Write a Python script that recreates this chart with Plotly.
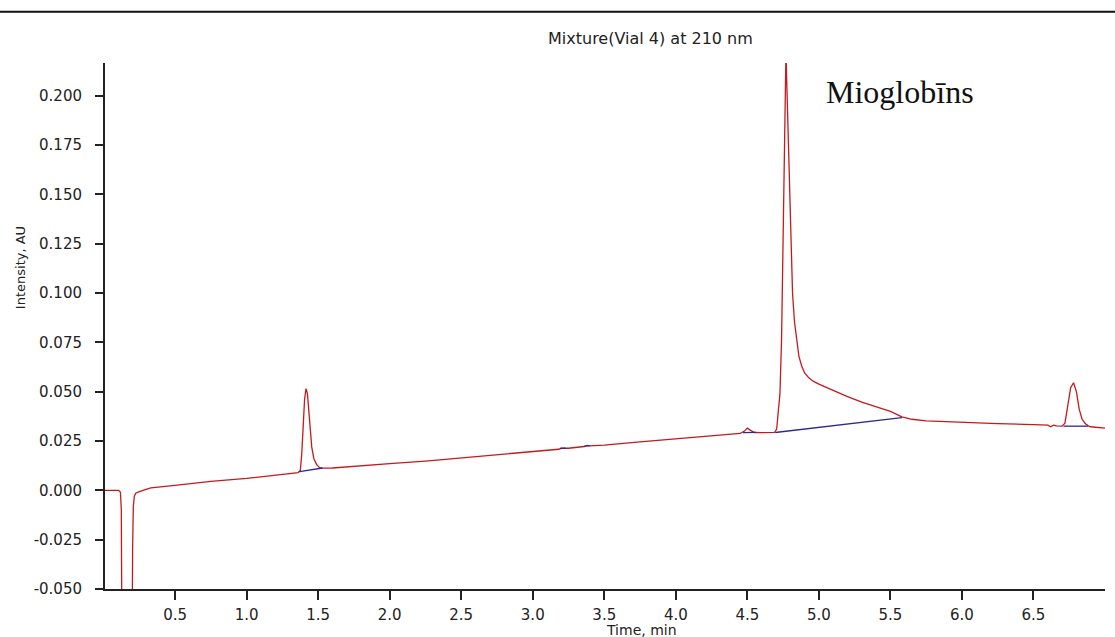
import plotly.graph_objects as go

# Chromatogram signal (time in min, intensity in AU)
time_min = [0.01, 0.105, 0.118, 0.124, 0.128, 0.20, 0.203, 0.208, 0.215, 0.225, 0.245, 0.28, 0.33,
            0.5, 0.75, 1.0, 1.25, 1.36, 1.375, 1.385, 1.395, 1.405, 1.415, 1.425, 1.435, 1.445,
            1.455, 1.47, 1.49, 1.51, 1.53, 1.6, 1.8, 2.0, 2.25, 2.5, 2.75, 3.0, 3.18, 3.2, 3.22,
            3.25, 3.36, 3.38, 3.40, 3.5, 3.75, 4.0, 4.25, 4.45, 4.48, 4.5, 4.52, 4.55, 4.6, 4.69,
            4.705, 4.718, 4.728, 4.739, 4.753, 4.762, 4.770, 4.778, 4.787, 4.797, 4.807, 4.816,
            4.83, 4.845, 4.86, 4.88, 4.90, 4.93, 4.96, 5.0, 5.05, 5.1, 5.2, 5.3, 5.4, 5.5, 5.58,
            5.65, 5.75, 6.0, 6.25, 6.5, 6.6, 6.62, 6.64, 6.66, 6.7, 6.72, 6.74, 6.76, 6.78, 6.80,
            6.82, 6.84, 6.86, 6.88, 6.9, 7.0]
intensity = [0.000, 0.000, -0.001, -0.010, -0.070, -0.070, -0.030, -0.008, -0.003, -0.0015, -0.0008, 0.0, 0.0012,
             0.0025, 0.0045, 0.006, 0.008, 0.0090, 0.010, 0.018, 0.032, 0.046, 0.0515, 0.049, 0.040, 0.030,
             0.022, 0.016, 0.013, 0.0115, 0.0112, 0.0113, 0.0125, 0.0135, 0.0148, 0.0164, 0.018, 0.0196, 0.0208, 0.0213, 0.0212,
             0.0213, 0.0222, 0.0227, 0.0225, 0.0229, 0.0245, 0.026, 0.0276, 0.0288, 0.0300, 0.0315, 0.0305, 0.0293, 0.0292, 0.0293,
             0.031, 0.040, 0.049, 0.076, 0.145, 0.191, 0.222, 0.200, 0.1756, 0.150, 0.1266, 0.0997,
             0.085, 0.075, 0.068, 0.063, 0.0595, 0.057, 0.0553, 0.0538, 0.0522, 0.0505, 0.0475, 0.0447, 0.0422, 0.0400, 0.0372,
             0.0360, 0.0352, 0.0344, 0.0338, 0.0333, 0.0330, 0.0322, 0.0330, 0.0326, 0.0325, 0.034, 0.043, 0.052, 0.0545, 0.050,
             0.041, 0.036, 0.034, 0.0328, 0.0322, 0.0315]

# Integration baselines (blue segments)
baseline_time = [1.37, 1.53, None, 3.19, 3.23, None, 3.36, 3.40, None, 4.47, 4.56, None, 4.695, 5.58, None, 6.71, 6.88]
baseline_val = [0.0095, 0.0113, None, 0.0212, 0.0213, None, 0.0224, 0.0226, None, 0.0292, 0.0294, None, 0.0293, 0.0368, None, 0.0325, 0.0325]

y_ticks = [-0.050, -0.025, 0.000, 0.025, 0.050, 0.075, 0.100, 0.125, 0.150, 0.175, 0.200]
x_ticks = [0.5, 1.0, 1.5, 2.0, 2.5, 3.0, 3.5, 4.0, 4.5, 5.0, 5.5, 6.0, 6.5]

fig = go.Figure()
fig.add_trace(go.Scatter(x=time_min, y=intensity, mode="lines",
                         line=dict(color="#c41a1e", width=1.3), showlegend=False))
fig.add_trace(go.Scatter(x=baseline_time, y=baseline_val, mode="lines",
                         line=dict(color="#2a2a96", width=1.3), showlegend=False, connectgaps=False))

tick_font = dict(family="DejaVu Sans", size=15, color="#222222")

fig.update_layout(
    width=1115, height=637, autosize=False,
    margin=dict(l=105, r=10, t=63, b=48),
    paper_bgcolor="white", plot_bgcolor="white",
    font=dict(family="DejaVu Sans", color="#222222"),
    xaxis=dict(range=[0.01, 7.0], tickvals=x_ticks, ticktext=[f"{v:.1f}" for v in x_ticks],
               ticks="outside", ticklen=9, tickwidth=2, tickcolor="#222222",
               showline=True, linecolor="#222222", linewidth=2, showgrid=False, zeroline=False,
               tickfont=tick_font, ticklabelstandoff=2),
    yaxis=dict(range=[-0.050, 0.2165], tickvals=y_ticks, ticktext=[f"{v:.3f}" for v in y_ticks],
               ticks="outside", ticklen=8, tickwidth=2, tickcolor="#222222",
               showline=True, linecolor="#222222", linewidth=2, showgrid=False, zeroline=False,
               tickfont=tick_font, ticklabelstandoff=10),
    shapes=[dict(type="line", xref="paper", yref="paper", x0=-0.11, x1=1.02, y0=1.0973, y1=1.0973,
                 line=dict(color="#111111", width=2))],
    annotations=[
        dict(text="Mixture(Vial 4) at 210 nm", xref="paper", yref="paper", x=0.545, y=1.046,
             xanchor="center", yanchor="middle", showarrow=False,
             font=dict(family="DejaVu Sans", size=16, color="#222222")),
        dict(text="Intensity, AU", xref="paper", yref="paper", x=-0.085, y=0.61,
             xanchor="center", yanchor="middle", textangle=-90, showarrow=False,
             font=dict(family="DejaVu Sans", size=13, color="#222222")),
        dict(text="Time, min", xref="paper", yref="paper", x=0.536, y=-0.059,
             xanchor="center", yanchor="top", showarrow=False,
             font=dict(family="DejaVu Sans", size=14, color="#222222")),
        dict(text="Mioglobīns", xref="paper", yref="paper", x=0.719, y=0.944,
             xanchor="left", yanchor="middle", showarrow=False,
             font=dict(family="Liberation Serif", size=32, color="#111111")),
    ],
)

fig.write_html("out.html")
